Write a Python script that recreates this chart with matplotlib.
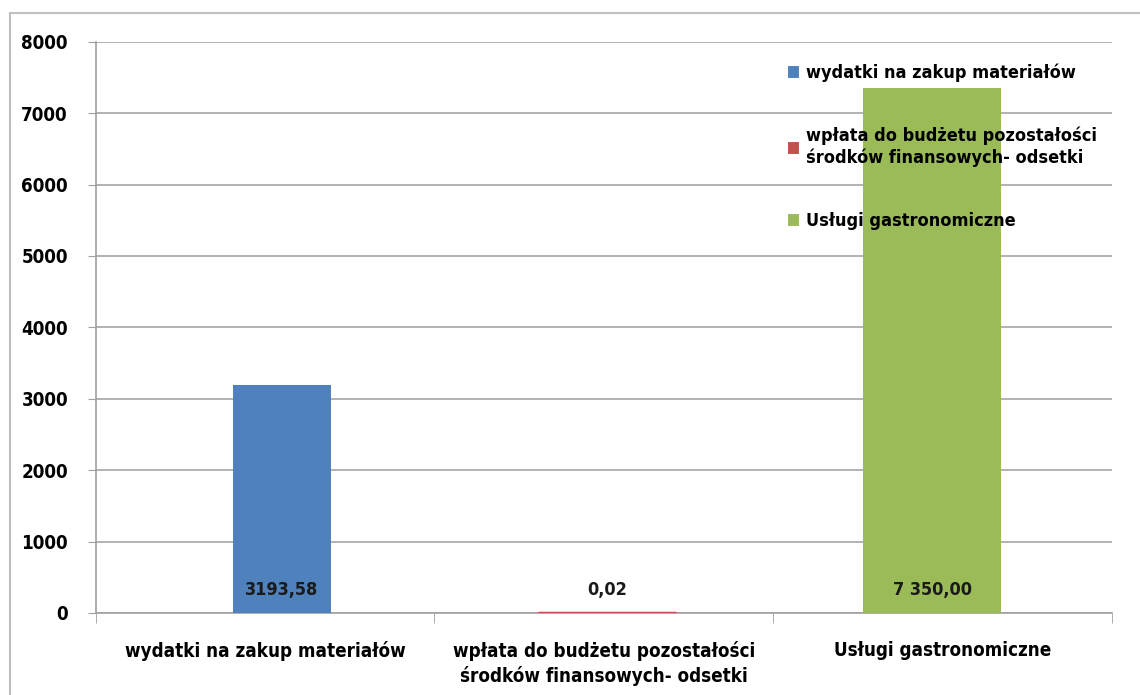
import matplotlib.pyplot as plt
from matplotlib.patches import Rectangle
from matplotlib.ticker import FixedLocator, NullFormatter

# dane
kategorie = ["wydatki na zakup materiałów",
             "wpłata do budżetu pozostałości\nśrodków finansowych- odsetki",
             "Usługi gastronomiczne"]
legenda = ["wydatki na zakup materiałów",
           "wpłata do budżetu pozostałości\nśrodków finansowych- odsetki",
           "Usługi gastronomiczne"]
wartosci = [3193.58, 0.02, 7350.00]
etykiety = ["3193,58", "0,02", "7 350,00"]
kolory = ["#4f81bd", "#c0504d", "#9bbb59"]

plt.rcParams['font.family'] = ['DejaVu Sans']
plt.rcParams['font.stretch'] = 'condensed'
plt.rcParams['font.weight'] = 'bold'

fig = plt.figure(figsize=(11.4, 6.95), dpi=100)
ax = fig.add_axes([0.084, 0.118, 0.891, 0.822])

# ramka wykresu
fig.patches.append(Rectangle((0.009, -0.05), 1.2, 1.031, transform=fig.transFigure,
                             fill=False, edgecolor="#bfbfbf", linewidth=1.5))

szer = [0.29, 0.41, 0.41]
przes = [0.05, 0.01, -0.03]
for i in range(len(wartosci)):
    xi = i + przes[i]
    ax.bar(xi, wartosci[i], width=szer[i], color=kolory[i], label=legenda[i],
           edgecolor=kolory[i], linewidth=0 if i != 1 else 2.5, zorder=3)
    ax.text(xi, 320, etykiety[i], ha="center", va="center", fontsize=13,
            fontweight="bold", color="#1a1a1a", zorder=4)

ax.set_xlim(-0.5, 2.5)
ax.set_ylim(0, 8000)
ax.set_yticks(range(0, 8001, 1000))
ax.tick_params(axis="y", labelsize=13.5, length=6, color="#a0a0a0", pad=14)
ax.set_xticks(range(len(kategorie)))
ax.set_xticklabels(kategorie, fontsize=13.5, fontweight="bold", linespacing=1.35)
ax.tick_params(axis="x", length=0, pad=20)
ax.xaxis.set_minor_locator(FixedLocator([-0.5, 0.5, 1.5, 2.5]))
ax.xaxis.set_minor_formatter(NullFormatter())
ax.tick_params(axis="x", which="minor", length=7, color="#a0a0a0")
for lab in ax.get_yticklabels():
    lab.set_fontweight("bold")

ax.grid(axis="y", color="#a6a6a6", linewidth=1.2, zorder=0)
for s in ["top", "right"]:
    ax.spines[s].set_visible(False)
ax.spines["left"].set_color("#a0a0a0")
ax.spines["bottom"].set_color("#a0a0a0")
ax.spines["left"].set_linewidth(1.2)
ax.spines["bottom"].set_linewidth(1.2)

leg = ax.legend(loc="upper left", bbox_to_anchor=(0.673, 0.975), frameon=False,
                fontsize=13, handlelength=0.7, handleheight=0.7, handletextpad=0.35,
                labelspacing=2.5, borderaxespad=0)
for t in leg.get_texts():
    t.set_fontweight("bold")
for h in leg.legend_handles:
    h.set_edgecolor("white")
    h.set_linewidth(0.8)

fig.savefig("out.png", dpi=100)
